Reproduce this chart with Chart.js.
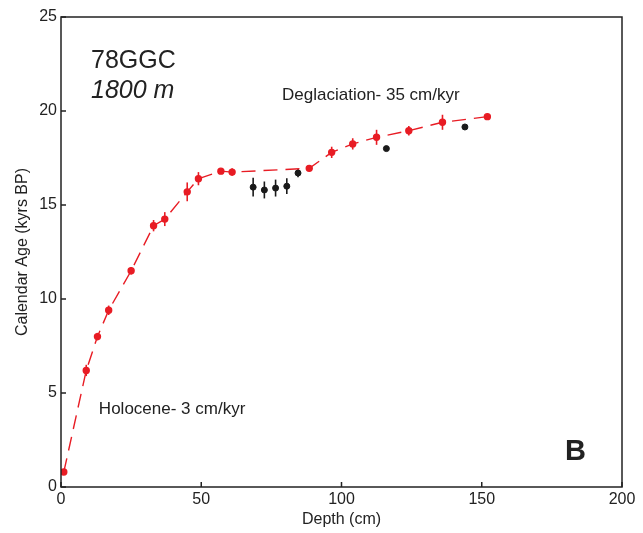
<!DOCTYPE html>
<html>
<head>
<meta charset="utf-8">
<script src="https://cdn.jsdelivr.net/npm/chart.js@4/dist/chart.umd.min.js"></script>
<style>
  body { margin: 0; background: #fff; }
  #wrap { width: 643px; height: 533px; position: relative; }
</style>
</head>
<body>
<div id="wrap"><canvas id="age-depth-chart"></canvas></div>
<script>
// 红色点：年龄模型控制点 (深度 cm, 年龄 kyr BP, 误差)
const redDepth = [1, 9, 13, 17, 25, 33, 37, 45, 49, 57, 61, 88.5, 96.5, 104, 112.5, 124, 136, 152];
const redAge   = [0.8, 6.2, 8.0, 9.4, 11.5, 13.9, 14.25, 15.7, 16.4, 16.8, 16.75, 16.95, 17.8, 18.25, 18.6, 18.95, 19.4, 19.7];
const redErr   = [0.1, 0.3, 0.2, 0.25, 0.2, 0.3, 0.37, 0.5, 0.35, 0.1, 0.2, 0.1, 0.3, 0.3, 0.4, 0.25, 0.4, 0.1];

// 黑色点：未采用的年龄
const blackDepth = [68.5, 72.5, 76.5, 80.5, 84.5, 116, 144];
const blackAge   = [15.95, 15.8, 15.9, 16.0, 16.7, 18.0, 19.15];
const blackErr   = [0.5, 0.45, 0.45, 0.42, 0.22, 0, 0];

// 刻度
const xTicks = [0, 50, 100, 150, 200];
const yTicks = [0, 5, 10, 15, 20, 25];

const FONT = '"Liberation Sans", Arial, sans-serif';
const RED = 'rgb(232, 28, 36)';
const BLACK = '#1a1a1a';

const redPoints = redDepth.map((d, i) => ({ x: d, y: redAge[i], err: redErr[i] }));
const blackPoints = blackDepth.map((d, i) => ({ x: d, y: blackAge[i], err: blackErr[i] }));

// 图中文字标注（数据坐标）
const notes = [
    { text: '78GGC', x: 10.7, y: 22.3, font: '25px ' + FONT },
    { text: '1800 m', x: 10.7, y: 20.7, font: 'italic 25px ' + FONT },
    { text: 'Deglaciation- 35 cm/kyr', x: 78.8, y: 20.6, font: '17px ' + FONT },
    { text: 'Holocene- 3 cm/kyr', x: 13.5, y: 3.9, font: '17px ' + FONT },
    { text: 'B', x: 179.7, y: 1.45, font: 'bold 29px ' + FONT }
];

// 误差棒 + 边框 + 内向刻度 + 文字
const extrasPlugin = {
    id: 'extras',
    beforeDatasetsDraw(chart) {
        const ctx = chart.ctx;
        const xs = chart.scales.x, ys = chart.scales.y;
        ctx.save();
        ctx.lineWidth = 1.6;
        chart.data.datasets.forEach(ds => {
            ctx.strokeStyle = ds.pointBackgroundColor;
            ds.data.forEach(p => {
                if (!p.err) return;
                const px = xs.getPixelForValue(p.x);
                ctx.beginPath();
                ctx.moveTo(px, ys.getPixelForValue(p.y - p.err));
                ctx.lineTo(px, ys.getPixelForValue(p.y + p.err));
                ctx.stroke();
            });
        });
        ctx.restore();
    },
    afterDraw(chart) {
        const ctx = chart.ctx;
        const a = chart.chartArea;
        const xs = chart.scales.x, ys = chart.scales.y;
        ctx.save();
        ctx.strokeStyle = '#222';
        ctx.lineWidth = 1.5;
        ctx.strokeRect(a.left, a.top, a.right - a.left, a.bottom - a.top);
        ctx.beginPath();
        xTicks.forEach(v => {
            const px = xs.getPixelForValue(v);
            ctx.moveTo(px, a.bottom);
            ctx.lineTo(px, a.bottom - 5);
        });
        yTicks.forEach(v => {
            const py = ys.getPixelForValue(v);
            ctx.moveTo(a.left, py);
            ctx.lineTo(a.left + 5, py);
        });
        ctx.stroke();
        ctx.fillStyle = '#222';
        ctx.textBaseline = 'alphabetic';
        notes.forEach(n => {
            ctx.font = n.font;
            ctx.fillText(n.text, xs.getPixelForValue(n.x), ys.getPixelForValue(n.y));
        });
        ctx.restore();
    }
};

const ctx = document.getElementById('age-depth-chart').getContext('2d');
new Chart(ctx, {
    type: 'scatter',
    data: {
        datasets: [{
            label: 'red',
            data: redPoints,
            showLine: true,
            borderColor: RED,
            borderWidth: 1.4,
            borderDash: [14, 8],
            pointBackgroundColor: RED,
            pointBorderColor: RED,
            pointRadius: 3
        }, {
            label: 'black',
            data: blackPoints,
            showLine: false,
            pointBackgroundColor: BLACK,
            pointBorderColor: BLACK,
            pointRadius: 3
        }]
    },
    options: {
        responsive: true,
        maintainAspectRatio: false,
        animation: false,
        layout: { padding: { top: 17, right: 21, left: 0, bottom: 0 } },
        plugins: {
            legend: { display: false },
            tooltip: { enabled: false }
        },
        scales: {
            x: {
                type: 'linear',
                min: 0,
                max: 200,
                afterBuildTicks: s => { s.ticks = xTicks.map(v => ({ value: v })); },
                afterFit: s => { s.height = 46; },
                grid: { display: false, drawTicks: false },
                border: { display: false },
                ticks: { color: '#222', padding: 3, font: { family: FONT, size: 16 } },
                title: { display: true, text: 'Depth (cm)', color: '#222', padding: { top: 0, bottom: 4 }, font: { family: FONT, size: 16 } }
            },
            y: {
                type: 'linear',
                min: 0,
                max: 25,
                afterBuildTicks: s => { s.ticks = yTicks.map(v => ({ value: v })); },
                afterFit: s => { s.width = 61; },
                grid: { display: false, drawTicks: false },
                border: { display: false },
                ticks: { color: '#222', padding: 4, font: { family: FONT, size: 16 } },
                title: { display: true, text: 'Calendar Age (kyrs BP)', color: '#222', padding: { top: 13, bottom: 0 }, font: { family: FONT, size: 16 } }
            }
        }
    },
    plugins: [extrasPlugin]
});
</script>
</body>
</html>
